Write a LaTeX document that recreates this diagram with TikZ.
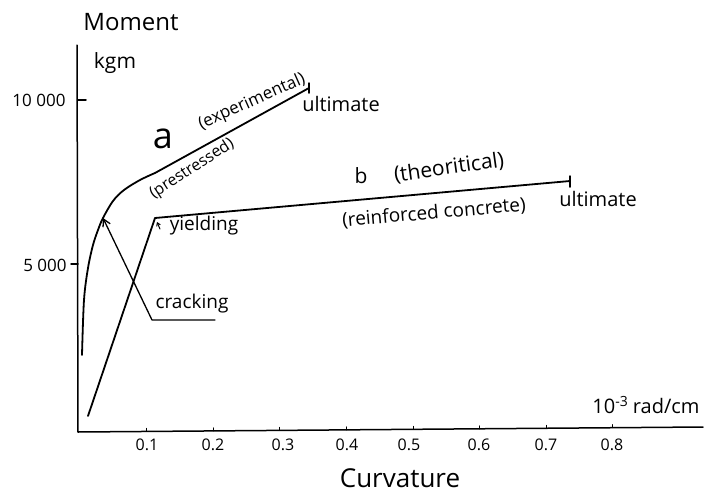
\documentclass[tikz,border=0pt]{standalone}
\usepackage{fontspec}
\setmainfont{Open Sans}
\usetikzlibrary{arrows.meta}
\begin{document}
\begin{tikzpicture}[x=1pt,y=-1pt,line width=1.5pt,line join=round,line cap=round,
  lbl/.style={inner sep=0pt,font=\fontsize{19}{20}\selectfont},
  big/.style={inner sep=0pt,font=\fontsize{24}{26}\selectfont},
  tick/.style={line width=1pt},
  curve/.style={line width=1.8pt}]
\useasboundingbox (0,0) rectangle (716,499);
% axes
\coordinate (ytop) at (77,45);
\coordinate (orig) at (78,432);
\coordinate (xend) at (703,427);
\draw (ytop) -- (orig) -- (xend);
% y ticks
\coordinate (y10a) at (78,100); \coordinate (y10b) at (86,100);
\coordinate (y5a) at (71,264);  \coordinate (y5b) at (78,264);
\draw (y10a) -- (y10b);
\draw (y5a) -- (y5b);
\node[lbl,font=\fontsize{17}{18}\selectfont] (l10) at (39,100) {10 000};
\node[lbl,font=\fontsize{17}{18}\selectfont] (l5) at (45,265) {5 000};
% x ticks
\foreach \c/\t/\lx in {0.1/1/147,0.2/2/213,0.3/3/283,0.4/4/347,0.5/5/409,0.6/6/479,0.7/7/546,0.8/8/612}{
  \pgfmathsetmacro{\xx}{80+666*\c}
  \pgfmathsetmacro{\yy}{432-5*(\xx-78)/625}
  \draw[tick] (\xx,\yy) -- (\xx,\yy-3);
  \node[lbl,font=\fontsize{16}{17}\selectfont] (t\t) at (\lx,445) {0.\t};
}
% axis titles
\node[big] (moment) at (131,22) {Moment};
\node[lbl,font=\fontsize{21}{22}\selectfont] (kgm) at (115,63) {kgm};
\node[big,font=\fontsize{26}{28}\selectfont] (curv) at (400,478) {Curvature};
\node[lbl,font=\fontsize{20}{22}\selectfont] (unit) at (646,405) {10\raisebox{0.6ex}{\fontsize{14}{14}\selectfont -3} rad/cm};
% curve a (experimental, prestressed)
\coordinate (aend) at (309,88);
\coordinate (acrack) at (103,218);
\draw[curve] plot[smooth,tension=0.55] coordinates {(82,355) (84,300) (88,268) (93,245) (98,230) (103,218) (113,201) (124,190) (140,180) (155,173)} -- (aend);
\draw (309,83) -- (309,93);
\node[inner sep=0pt,font=\fontsize{36}{36}\selectfont] (la) at (163,139) {a};
\node[lbl,font=\fontsize{17}{18}\selectfont,rotate=24] (lexp) at (252,102) {(experimental)};
\node[lbl,font=\fontsize{16}{18}\selectfont,rotate=33] (lpre) at (192,169) {(prestressed)};
\node[lbl,font=\fontsize{20}{22}\selectfont] (ulta) at (341,104) {ultimate};
% curve b (theoretical, reinforced concrete)
\coordinate (bstart) at (88,416);
\coordinate (byield) at (155,218);
\coordinate (bend) at (570,181);
\draw[curve] (bstart) -- (byield) -- (bend);
\draw (570,176) -- (570,187);
\node[lbl,font=\fontsize{21}{22}\selectfont] (lb) at (361,176) {b};
\node[lbl,font=\fontsize{21}{22}\selectfont,rotate=8] (lth) at (449,168) {(theoritical)};
\node[lbl,font=\fontsize{19}{20}\selectfont,rotate=5] (lrc) at (434,213) {(reinforced concrete)};
\node[lbl,font=\fontsize{20}{22}\selectfont] (ultb) at (598,199) {ultimate};
% yielding
\coordinate (ya) at (160,229);
\coordinate (yb) at (157,222);
\draw[line width=1pt,-{Straight Barb[length=3pt,width=4pt]}] (ya) -- (yb);
\node[lbl] (yield) at (204,226) {yielding};
% cracking
\coordinate (kc) at (152,320);
\coordinate (kd) at (215,320);
\draw[line width=1.3pt,{Straight Barb[length=7pt,width=8pt]}-] (acrack) -- (kc) -- (kd);
\node[lbl] (crack) at (192,304) {cracking};
\end{tikzpicture}
\end{document}
